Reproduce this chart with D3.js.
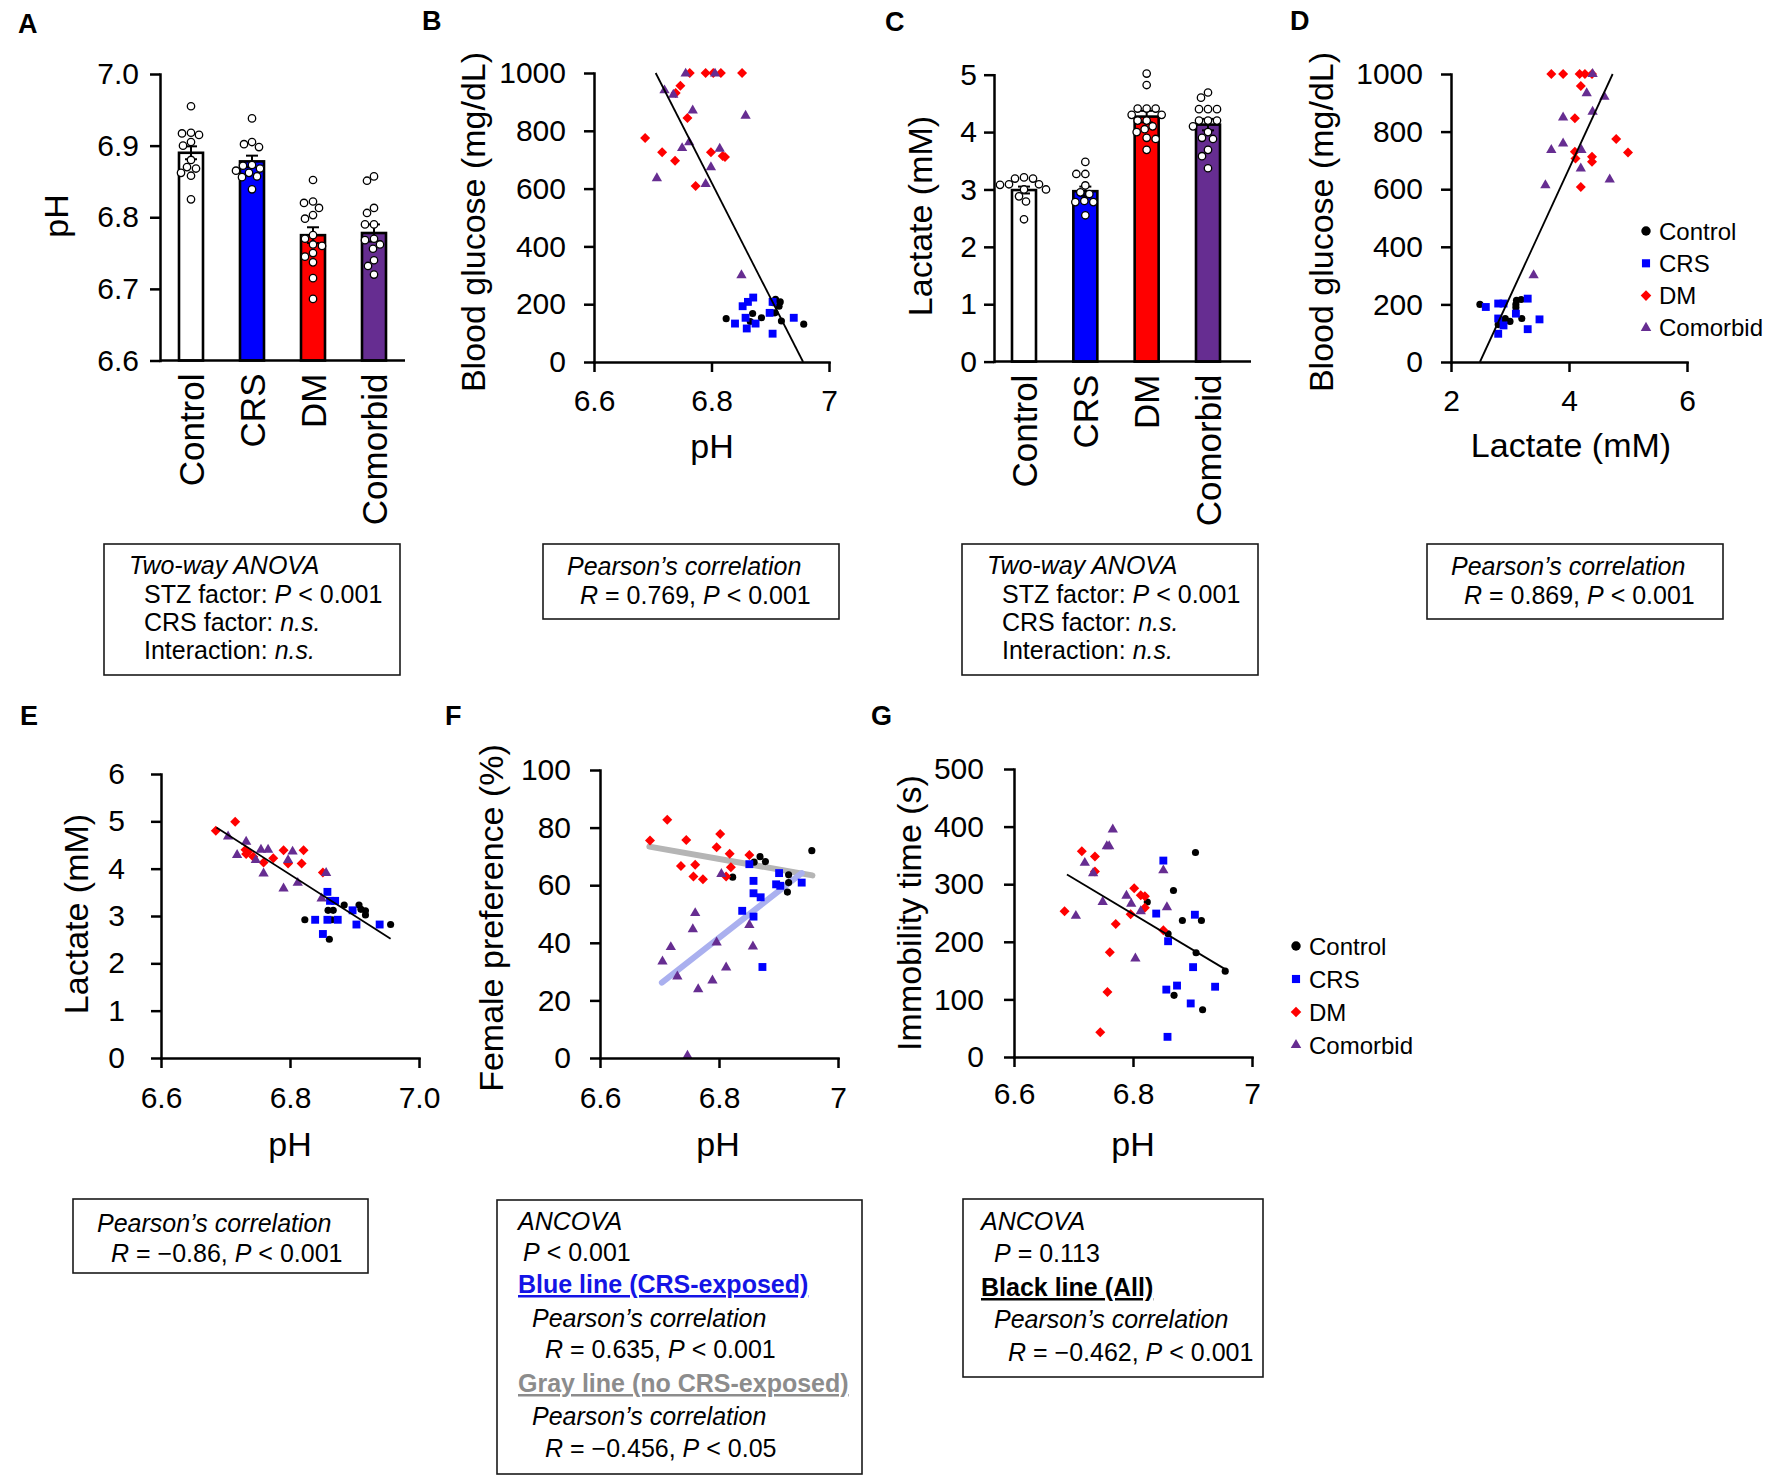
<!DOCTYPE html>
<html>
<head>
<meta charset="utf-8">
<script src="https://cdn.jsdelivr.net/npm/d3@7"></script>
<style>
  body { margin: 0; background: #fff; }
  text { font-family: "Liberation Sans", Arial, sans-serif; }
</style>
</head>
<body>
<script>
// ---- data ----
var groups = ["Control", "CRS", "DM", "Comorbid"];
var barColors = ["#ffffff", "#0000ff", "#ff0000", "#662d91"];
var dotColors = ["#000000", "#0000ff", "#ff0000", "#662d91"];

// A: pH per group
var phMean = [6.890, 6.878, 6.775, 6.778];
var phSem = [0.009, 0.008, 0.011, 0.012];
var phPoints = [
  [6.955, 6.918, 6.917, 6.915, 6.905, 6.900, 6.880, 6.870, 6.868, 6.862, 6.858, 6.825],
  [6.938, 6.905, 6.902, 6.898, 6.873, 6.872, 6.868, 6.865, 6.862, 6.857, 6.856, 6.839],
  [6.852, 6.822, 6.820, 6.813, 6.803, 6.798, 6.775, 6.770, 6.762, 6.760, 6.750, 6.745, 6.737, 6.715, 6.686],
  [6.857, 6.851, 6.813, 6.806, 6.790, 6.790, 6.770, 6.768, 6.762, 6.756, 6.740, 6.732, 6.720]
];

// C: lactate per group
var lacMean = [2.99, 2.97, 4.27, 4.13];
var lacSem = [0.06, 0.08, 0.10, 0.10];
var lacPoints = [
  [3.21, 3.19, 3.19, 3.09, 3.09, 3.08, 3.0, 3.0, 2.88, 2.79, 2.48],
  [3.48, 3.27, 3.27, 3.07, 2.95, 2.92, 2.80, 2.78, 2.78, 2.55],
  [5.02, 4.82, 4.41, 4.41, 4.41, 4.30, 4.30, 4.20, 4.20, 4.10, 4.05, 4.00, 3.90, 3.88, 3.69],
  [4.69, 4.60, 4.40, 4.40, 4.40, 4.20, 4.20, 4.20, 4.10, 4.00, 3.90, 3.88, 3.69, 3.58, 3.37]
];

// B: pH vs blood glucose
var glucoseVsPh = [
  [[6.825,150],[6.866,140],[6.870,168],[6.885,153],[6.905,205],[6.909,217],[6.915,193],[6.917,208],[6.908,170],[6.919,142],[6.957,131]],
  [[6.840,133],[6.853,193],[6.862,208],[6.871,223],[6.858,153],[6.860,116],[6.875,133],[6.899,170],[6.904,208],[6.904,98],[6.940,153]],
  [[6.763,1000],[6.790,1000],[6.803,1000],[6.816,1000],[6.852,1000],[6.747,956],[6.739,931],[6.759,844],[6.687,775],[6.716,726],[6.738,696],[6.799,726],[6.819,713],[6.823,709],[6.773,609]],
  [[6.756,998],[6.806,998],[6.720,940],[6.735,925],[6.768,870],[6.858,852],[6.750,740],[6.762,760],[6.814,738],[6.799,674],[6.790,616],[6.707,636],[6.851,300]]
];
var fitB = [[6.705, 1000], [6.956, 0]];

// D: lactate vs blood glucose
var glucoseVsLac = [
  [[2.49,200],[3.11,214],[3.19,217],[3.10,200],[3.10,189],[3.20,151],[2.92,151],[3.00,141],[2.80,130],[2.88,139]],
  [[2.59,191],[2.80,203],[2.89,203],[3.30,220],[3.10,168],[2.80,151],[2.89,127],[2.80,98],[3.30,114],[3.50,148]],
  [[3.70,1000],[3.90,1000],[4.18,1000],[4.27,1000],[4.39,1000],[4.20,958],[4.10,846],[4.80,774],[5.00,727],[4.10,730],[4.11,707],[4.39,713],[4.39,695],[4.20,608]],
  [[4.40,1000],[4.30,933],[4.60,921],[4.40,869],[3.90,849],[3.70,736],[3.90,759],[4.21,736],[4.20,672],[3.60,614],[4.69,634],[3.40,301]]
];
var fitD = [[2.49, 0], [4.74, 1000]];

// E: pH vs lactate
var lacVsPh = [
  [[6.823,2.92],[6.859,3.12],[6.867,3.12],[6.884,3.23],[6.907,3.23],[6.910,3.14],[6.917,3.11],[6.917,3.02],[6.956,2.82],[6.861,2.51],[6.865,2.92]],
  [[6.839,2.92],[6.858,3.51],[6.862,3.32],[6.870,3.32],[6.858,2.92],[6.874,2.92],[6.851,2.62],[6.897,3.12],[6.903,2.82],[6.939,2.82]],
  [[6.685,4.80],[6.715,4.99],[6.735,4.36],[6.732,4.31],[6.743,4.25],[6.759,4.13],[6.774,4.22],[6.790,4.39],[6.797,4.11],[6.821,4.39],[6.818,4.11],[6.851,3.92],[6.731,4.40]],
  [[6.704,4.68],[6.718,4.29],[6.732,4.57],[6.747,4.18],[6.755,4.40],[6.766,4.40],[6.759,3.90],[6.790,3.58],[6.804,4.36],[6.797,4.18],[6.812,3.70],[6.849,3.37],[6.856,3.91]]
];
var fitE = [[6.686, 4.87], [6.956, 2.52]];

// F: pH vs female preference
var prefVsPh = [
  [[6.823,62.8],[6.859,68.0],[6.869,69.9],[6.878,68.2],[6.956,72.0],[6.917,63.6],[6.917,60.9],[6.915,57.6]],
  [[6.851,67.3],[6.858,61.5],[6.858,57.2],[6.870,55.8],[6.839,51.1],[6.858,49.1],[6.901,64.2],[6.896,60.3],[6.903,59.8],[6.939,60.9],[6.873,31.6]],
  [[6.684,75.5],[6.713,82.7],[6.745,75.7],[6.802,77.8],[6.796,73.2],[6.736,66.7],[6.760,67.1],[6.757,63.0],[6.773,62.1],[6.818,70.9],[6.820,66.2],[6.812,63.0],[6.851,70.5]],
  [[6.804,63.9],[6.760,50.3],[6.756,44.7],[6.719,38.5],[6.705,33.5],[6.730,28.3],[6.765,23.9],[6.789,26.9],[6.812,31.4],[6.796,40.1],[6.851,46.2],[6.857,38.7],[6.747,0.8]]
];
var fitFGray = [[6.683, 73.4], [6.957, 63.4]];
var fitFBlue = [[6.704, 26.2], [6.939, 64.2]];

// G: pH vs immobility time
var immVsPh = [
  [[6.905,355],[6.868,289],[6.824,269],[6.883,237],[6.915,237],[6.859,214],[6.906,181],[6.955,149],[6.869,107],[6.917,82]],
  [[6.851,341],[6.839,249],[6.904,247],[6.859,201],[6.901,156],[6.938,122],[6.874,124],[6.856,117],[6.897,93],[6.858,35]],
  [[6.714,357],[6.736,348],[6.736,322],[6.685,253],[6.802,293],[6.813,281],[6.820,279],[6.820,259],[6.796,248],[6.771,231],[6.851,220],[6.761,182],[6.757,113],[6.745,43]],
  [[6.766,395],[6.756,366],[6.760,366],[6.719,337],[6.733,319],[6.851,324],[6.749,269],[6.789,280],[6.797,266],[6.813,253],[6.857,260],[6.704,245],[6.804,171]]
];
var fitG = [[6.689, 317], [6.954, 153]];

var phTicks = [6.6, 6.8, 7];

// ---- drawing ----
var svg = d3.select("body").append("svg")
  .attr("width", 1772).attr("height", 1482)
  .style("background", "#fff");

function phFmt(d) { return d === 7 ? "7" : d.toFixed(1); }

function styleAxis(g) {
  g.attr("font-size", 30).attr("font-family", null);
  g.selectAll("path, line").attr("stroke", "#000").attr("stroke-width", 2.5);
  g.select(".domain").attr("stroke-linecap", "square");
  g.selectAll("text").attr("fill", "#000");
}

function yTitle(text, x, y) {
  svg.append("text")
    .attr("transform", "translate(" + x + "," + y + ") rotate(-90)")
    .attr("text-anchor", "middle")
    .attr("font-size", 34)
    .text(text);
}

function xTitle(text, x, y) {
  svg.append("text").attr("x", x).attr("y", y)
    .attr("text-anchor", "middle").attr("font-size", 34).text(text);
}

function panelLetter(l, x, y) {
  svg.append("text").attr("x", x).attr("y", y)
    .attr("font-size", 27).attr("font-weight", "bold").text(l);
}

// simple beeswarm offsets so dots do not overlap
function swarm(values, y, r) {
  var placed = [];
  return values.map(function(v) {
    var py = y(v);
    for (var k = 0; k < 60; k++) {
      var off = (k % 2 === 0 ? 1 : -1) * Math.ceil(k / 2) * 1.0;
      var ok = placed.every(function(p) {
        var dx = p[0] - off, dy = p[1] - py;
        return dx * dx + dy * dy >= (2 * r + 0.8) * (2 * r + 0.8);
      });
      if (ok) { placed.push([off, py]); return [off, py]; }
    }
    placed.push([0, py]);
    return [0, py];
  });
}

function barPanel(cfg) {
  var y = d3.scaleLinear().domain(cfg.yDomain).range([cfg.yBottom, cfg.yTop]);
  var x = d3.scalePoint().domain(groups).range([cfg.ax + cfg.firstOff, cfg.ax + cfg.lastOff]);
  var g = svg.append("g");
  var bw = 24;

  g.selectAll("rect.bar").data(cfg.mean).join("rect")
    .attr("x", function(d, i) { return x(groups[i]) - bw / 2; })
    .attr("y", function(d) { return y(d); })
    .attr("width", bw)
    .attr("height", function(d) { return y(cfg.yDomain[0]) - y(d); })
    .attr("fill", function(d, i) { return barColors[i]; })
    .attr("stroke", "#000").attr("stroke-width", 2.6);

  cfg.mean.forEach(function(m, i) {
    var cx = x(groups[i]);
    var lo = y(m - cfg.sem[i]), hi = y(m + cfg.sem[i]);
    g.append("line").attr("x1", cx).attr("x2", cx).attr("y1", lo).attr("y2", hi)
      .attr("stroke", "#000").attr("stroke-width", 2);
    [lo, hi].forEach(function(yy) {
      g.append("line").attr("x1", cx - 6).attr("x2", cx + 6).attr("y1", yy).attr("y2", yy)
        .attr("stroke", "#000").attr("stroke-width", 2);
    });
  });

  cfg.points.forEach(function(vals, i) {
    var pos = swarm(vals, y, 3.7);
    g.selectAll(null).data(pos).join("circle")
      .attr("cx", function(p) { return x(groups[i]) + p[0]; })
      .attr("cy", function(p) { return p[1]; })
      .attr("r", 3.7)
      .attr("fill", "#fff").attr("stroke", "#000").attr("stroke-width", 1.3);
  });

  var ya = svg.append("g").attr("transform", "translate(" + cfg.ax + ",0)")
    .call(d3.axisLeft(y).tickValues(cfg.yTicks).tickFormat(cfg.yFmt)
      .tickSize(10).tickSizeOuter(0).tickPadding(cfg.yPad));
  styleAxis(ya);

  svg.append("line")
    .attr("x1", cfg.ax).attr("x2", cfg.xEnd)
    .attr("y1", y(cfg.yDomain[0])).attr("y2", y(cfg.yDomain[0]))
    .attr("stroke", "#000").attr("stroke-width", 2.5);

  groups.forEach(function(name) {
    svg.append("text")
      .attr("transform", "translate(" + (x(name) + 12.5) + "," + (y(cfg.yDomain[0]) + 13) + ") rotate(-90)")
      .attr("text-anchor", "end").attr("font-size", 35).text(name);
  });
}

var symbolTypes = [d3.symbolCircle, d3.symbolSquare, d3.symbolSquare, d3.symbolTriangle];
var symbolSizes = [40, 62, 50, 46];
var legendSizes = [70, 66, 56, 48];

function drawMarker(g, i, px, py, size) {
  g.append("path")
    .attr("d", d3.symbol(symbolTypes[i], size || symbolSizes[i])())
    .attr("transform", "translate(" + px + "," + py + ")" + (i === 2 ? " rotate(45)" : ""))
    .attr("fill", dotColors[i]);
}

function scatterPanel(cfg) {
  var x = d3.scaleLinear().domain(cfg.xDomain).range([cfg.ax, cfg.xEnd]);
  var y = d3.scaleLinear().domain(cfg.yDomain).range([cfg.yBottom, cfg.yTop]);
  var g = svg.append("g");
  var line = d3.line().x(function(d) { return x(d[0]); }).y(function(d) { return y(d[1]); });

  (cfg.under || []).forEach(function(f) {
    g.append("path").attr("d", line(f.pts)).attr("fill", "none")
      .attr("stroke", f.color).attr("stroke-width", f.width).attr("stroke-linecap", "round");
  });

  cfg.data.forEach(function(pts, i) {
    pts.forEach(function(p) { drawMarker(g, i, x(p[0]), y(p[1])); });
  });

  (cfg.over || []).forEach(function(f) {
    g.append("path").attr("d", line(f.pts)).attr("fill", "none")
      .attr("stroke", f.color).attr("stroke-width", f.width);
  });

  var xa = svg.append("g").attr("transform", "translate(0," + cfg.yBottom + ")")
    .call(d3.axisBottom(x).tickValues(cfg.xTicks).tickFormat(cfg.xFmt)
      .tickSize(10).tickSizeOuter(0).tickPadding(cfg.xPad));
  styleAxis(xa);
  var ya = svg.append("g").attr("transform", "translate(" + cfg.ax + ",0)")
    .call(d3.axisLeft(y).tickValues(cfg.yTicks).tickFormat(d3.format("d"))
      .tickSize(10).tickSizeOuter(0).tickPadding(cfg.yPad));
  styleAxis(ya);

  if (cfg.legend) {
    groups.forEach(function(name, i) {
      var cy = cfg.legend.y + i * cfg.legend.step;
      drawMarker(svg, i, cfg.legend.x, cy, legendSizes[i]);
      svg.append("text").attr("x", cfg.legend.x + 13).attr("y", cy + 8.5)
        .attr("font-size", 24).text(name);
    });
  }
}

// rich text boxes
function infoBox(x, y, w, h, lines) {
  svg.append("rect").attr("x", x).attr("y", y).attr("width", w).attr("height", h)
    .attr("fill", "none").attr("stroke", "#1a1a1a").attr("stroke-width", 1.6);
  lines.forEach(function(ln) {
    var t = svg.append("text").attr("x", x + ln[0]).attr("y", y + ln[1])
      .attr("font-size", 25).attr("xml:space", "preserve");
    ln[2].forEach(function(part) {
      var ts = t.append("tspan").text(part[0]);
      var st = part[1] || "";
      if (st.indexOf("i") >= 0) ts.attr("font-style", "italic");
      if (st.indexOf("b") >= 0) ts.attr("font-weight", "bold").attr("text-decoration", "underline");
      if (part[2]) ts.attr("fill", part[2]);
    });
  });
}

// ---- panels ----
panelLetter("A", 18, 33);
barPanel({
  ax: 160, xEnd: 405, yTop: 74, yBottom: 360.5, yDomain: [6.6, 7.0],
  yTicks: [6.6, 6.7, 6.8, 6.9, 7.0], yFmt: d3.format(".1f"), yPad: 11,
  firstOff: 31, lastOff: 214,
  mean: phMean, sem: phSem, points: phPoints
});
yTitle("pH", 68, 216);

panelLetter("B", 422, 30);
scatterPanel({
  ax: 594, xEnd: 829, yTop: 73, yBottom: 362,
  xDomain: [6.6, 7], yDomain: [0, 1000],
  xTicks: phTicks, xFmt: phFmt, yTicks: [0, 200, 400, 600, 800, 1000],
  xPad: 18, yPad: 18,
  data: glucoseVsPh,
  over: [{ pts: fitB, color: "#000", width: 1.8 }]
});
yTitle("Blood glucose (mg/dL)", 485, 222);
xTitle("pH", 712, 458);

panelLetter("C", 885, 31);
barPanel({
  ax: 994, xEnd: 1251, yTop: 74.7, yBottom: 361.6, yDomain: [0, 5],
  yTicks: [0, 1, 2, 3, 4, 5], yFmt: d3.format("d"), yPad: 7,
  firstOff: 30, lastOff: 214,
  mean: lacMean, sem: lacSem, points: lacPoints
});
yTitle("Lactate (mM)", 932, 216);

panelLetter("D", 1290, 30);
scatterPanel({
  ax: 1451, xEnd: 1687, yTop: 74, yBottom: 362,
  xDomain: [2, 6], yDomain: [0, 1000],
  xTicks: [2, 4, 6], xFmt: d3.format("d"), yTicks: [0, 200, 400, 600, 800, 1000],
  xPad: 18, yPad: 18,
  data: glucoseVsLac,
  over: [{ pts: fitD, color: "#000", width: 1.8 }],
  legend: { x: 1646, y: 231, step: 32.3 }
});
yTitle("Blood glucose (mg/dL)", 1333, 222);
xTitle("Lactate (mM)", 1571, 457);

panelLetter("E", 20, 725);
scatterPanel({
  ax: 161, xEnd: 419, yTop: 774, yBottom: 1058,
  xDomain: [6.6, 7.0], yDomain: [0, 6],
  xTicks: [6.6, 6.8, 7.0], xFmt: d3.format(".1f"), yTicks: [0, 1, 2, 3, 4, 5, 6],
  xPad: 19, yPad: 26,
  data: lacVsPh,
  over: [{ pts: fitE, color: "#000", width: 1.8 }]
});
yTitle("Lactate (mM)", 88, 914);
xTitle("pH", 290, 1156);

panelLetter("F", 445, 725);
scatterPanel({
  ax: 600, xEnd: 838, yTop: 770, yBottom: 1058,
  xDomain: [6.6, 7], yDomain: [0, 100],
  xTicks: phTicks, xFmt: phFmt, yTicks: [0, 20, 40, 60, 80, 100],
  xPad: 19, yPad: 19,
  data: prefVsPh,
  under: [
    { pts: fitFGray, color: "#b5b5b5", width: 6 },
    { pts: fitFBlue, color: "#aab0ef", width: 6 }
  ]
});
yTitle("Female preference (%)", 503, 918);
xTitle("pH", 718, 1156);

panelLetter("G", 871, 725);
scatterPanel({
  ax: 1014, xEnd: 1252, yTop: 769, yBottom: 1057,
  xDomain: [6.6, 7], yDomain: [0, 500],
  xTicks: phTicks, xFmt: phFmt, yTicks: [0, 100, 200, 300, 400, 500],
  xPad: 16, yPad: 20,
  data: immVsPh,
  over: [{ pts: fitG, color: "#000", width: 1.8 }],
  legend: { x: 1296, y: 946, step: 33 }
});
yTitle("Immobility time (s)", 921, 913);
xTitle("pH", 1133, 1156);

// ---- statistics boxes ----
var anova = [
  [25, 30, [["Two-way ANOVA", "i"]]],
  [40, 59, [["STZ factor: "], ["P", "i"], [" < 0.001"]]],
  [40, 87, [["CRS factor: "], ["n.s.", "i"]]],
  [40, 115, [["Interaction: "], ["n.s.", "i"]]]
];
infoBox(104, 544, 296, 131, anova);
infoBox(962, 544, 296, 131, anova);

infoBox(543, 544, 296, 75, [
  [24, 31, [["Pearson\u2019s correlation", "i"]]],
  [37, 60, [["R", "i"], [" = 0.769, "], ["P", "i"], [" < 0.001"]]]
]);
infoBox(1427, 544, 296, 75, [
  [24, 31, [["Pearson\u2019s correlation", "i"]]],
  [37, 60, [["R", "i"], [" = 0.869, "], ["P", "i"], [" < 0.001"]]]
]);
infoBox(73, 1199, 295, 74, [
  [24, 33, [["Pearson\u2019s correlation", "i"]]],
  [38, 63, [["R", "i"], [" = \u22120.86, "], ["P", "i"], [" < 0.001"]]]
]);
infoBox(497, 1200, 365, 274, [
  [21, 30, [["ANCOVA", "i"]]],
  [26, 61, [["P", "i"], [" < 0.001"]]],
  [21, 93, [["Blue line (CRS-exposed)", "b", "#1414e6"]]],
  [35, 127, [["Pearson\u2019s correlation", "i"]]],
  [48, 158, [["R", "i"], [" = 0.635, "], ["P", "i"], [" < 0.001"]]],
  [21, 192, [["Gray line (no CRS-exposed)", "b", "#8c8c8c"]]],
  [35, 225, [["Pearson\u2019s correlation", "i"]]],
  [48, 257, [["R", "i"], [" = \u22120.456, "], ["P", "i"], [" < 0.05"]]]
]);
infoBox(963, 1199, 300, 178, [
  [18, 31, [["ANCOVA", "i"]]],
  [31, 63, [["P", "i"], [" = 0.113"]]],
  [18, 97, [["Black line (All)", "b", "#000"]]],
  [31, 129, [["Pearson\u2019s correlation", "i"]]],
  [45, 162, [["R", "i"], [" = \u22120.462, "], ["P", "i"], [" < 0.001"]]]
]);
</script>
</body>
</html>
